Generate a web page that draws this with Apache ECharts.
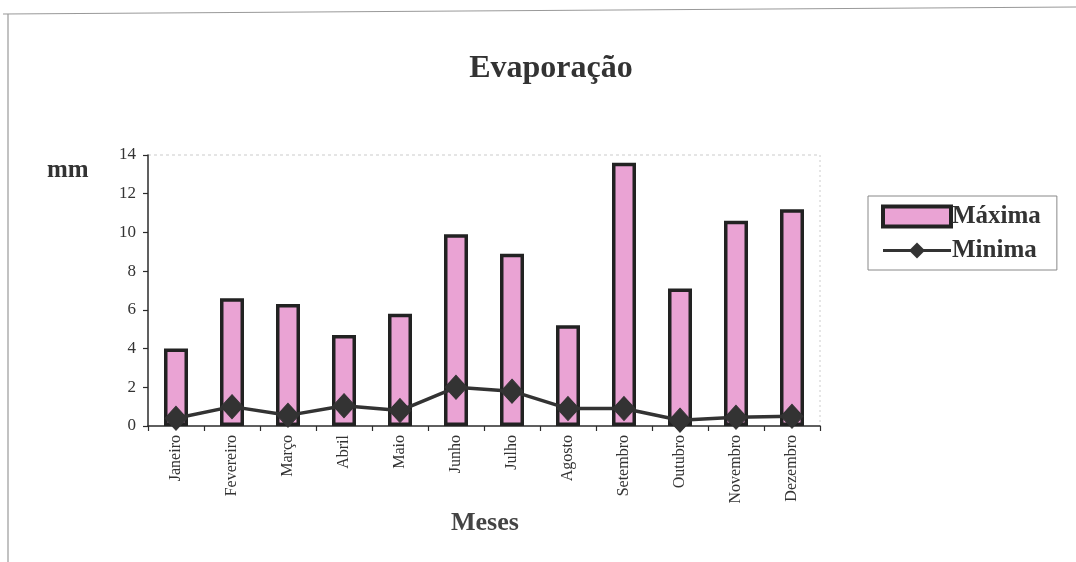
<!DOCTYPE html>
<html>
<head>
<meta charset="utf-8">
<script src="https://cdn.jsdelivr.net/npm/echarts@6/dist/echarts.min.js"></script>
<style>
  html, body { margin: 0; padding: 0; background: #fff; }
  #chart { width: 1076px; height: 562px; }
</style>
</head>
<body>
<div id="chart"></div>
<script>
// Monthly evaporation (mm): maximum and minimum
const months = ['Janeiro', 'Fevereiro', 'Março', 'Abril', 'Maio', 'Junho',
                'Julho', 'Agosto', 'Setembro', 'Outubro', 'Novembro', 'Dezembro'];
const maxima = [4.0, 6.6, 6.3, 4.7, 5.8, 9.9, 8.9, 5.2, 13.6, 7.1, 10.6, 11.2];
const minima = [0.4, 1.0, 0.55, 1.05, 0.8, 2.0, 1.8, 0.9, 0.9, 0.3, 0.45, 0.5];
const yTicks = { min: 0, max: 14, interval: 2 };

const serif = '"Liberation Serif", "DejaVu Serif", serif';
const ink = '#2b2b2b';

const chart = echarts.init(document.getElementById('chart'), null, { renderer: 'canvas' });

chart.setOption({
  animation: false,
  backgroundColor: '#fff',
  textStyle: { fontFamily: serif },
  title: {
    text: 'Evaporação',
    left: 546, top: 48, textAlign: 'center',
    textStyle: { fontFamily: serif, fontWeight: 'bold', fontSize: 32, color: '#333' }
  },
  legend: {
    orient: 'vertical',
    left: 868, top: 196,
    padding: [8, 16, 7, 13],
    itemGap: 9,
    itemWidth: 68, itemHeight: 20,
    borderColor: '#888', borderWidth: 1,
    textStyle: { fontFamily: serif, fontWeight: 'bold', fontSize: 25, color: '#333', padding: [0, 0, 0, -4] },
    data: [
      { name: 'Máxima', icon: 'rect', itemStyle: { borderWidth: 4 } },
      { name: 'Minima', lineStyle: { width: 3 } }
    ]
  },
  grid: { left: 148, right: 256, top: 155, bottom: 136, show: false },
  graphic: [
    // page frame: top and left edges
    { type: 'line', shape: { x1: 3, y1: 14, x2: 1076, y2: 7 }, style: { stroke: '#999', lineWidth: 1.2 } },
    { type: 'line', shape: { x1: 8, y1: 14, x2: 8, y2: 562 }, style: { stroke: '#999', lineWidth: 1.2 } },
    // faint plot-area edges on top and right
    { type: 'line', shape: { x1: 148, y1: 155, x2: 820, y2: 155 }, style: { stroke: '#ccc', lineWidth: 1, lineDash: [3, 3] } },
    { type: 'line', shape: { x1: 820, y1: 155, x2: 820, y2: 426 }, style: { stroke: '#ccc', lineWidth: 1, lineDash: [2, 3] } },
    { type: 'text', left: 47, top: 158, style: { text: 'mm', fontFamily: serif, fontWeight: 'bold', fontSize: 25, fill: '#333' } },
    { type: 'text', left: 451, top: 510, style: { text: 'Meses', fontFamily: serif, fontWeight: 'bold', fontSize: 26, fill: '#444' } }
  ],
  xAxis: {
    type: 'category',
    data: months,
    boundaryGap: true,
    axisLine: { lineStyle: { color: ink, width: 1.5 } },
    axisTick: { show: true, length: 5, lineStyle: { color: ink, width: 1.2 } },
    axisLabel: {
      rotate: 90, interval: 0, margin: 9,
      fontFamily: serif, fontSize: 16, color: '#333'
    },
    splitLine: { show: false }
  },
  yAxis: {
    type: 'value',
    min: yTicks.min, max: yTicks.max, interval: yTicks.interval,
    axisLine: { show: true, lineStyle: { color: ink, width: 1.5 } },
    axisTick: { show: true, length: 5, lineStyle: { color: ink, width: 1.2 } },
    axisLabel: { fontFamily: serif, fontSize: 17, color: '#333', margin: 12 },
    splitLine: { show: false }
  },
  series: [
    {
      name: 'Máxima',
      type: 'bar',
      data: maxima,
      barWidth: 24,
      itemStyle: { color: '#eaa3d4', borderColor: '#222', borderWidth: 3.5 }
    },
    {
      name: 'Minima',
      type: 'line',
      data: minima,
      symbol: 'diamond',
      symbolSize: [22, 24],
      lineStyle: { color: '#333', width: 3.5 },
      itemStyle: { color: '#333', borderColor: '#333' },
      z: 5
    }
  ]
});
</script>
</body>
</html>
